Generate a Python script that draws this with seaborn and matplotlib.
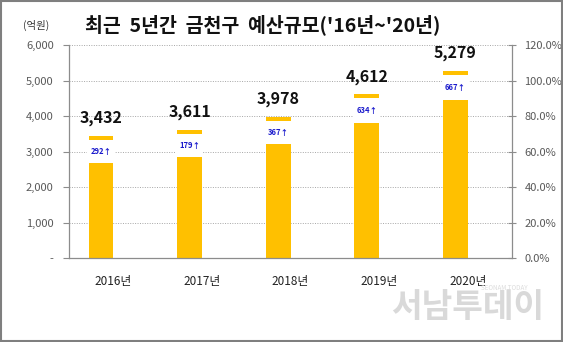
import matplotlib
matplotlib.use("Agg")
import matplotlib.pyplot as plt
import seaborn as sns
import pandas as pd
from matplotlib.patches import Rectangle
from matplotlib.ticker import FuncFormatter, PercentFormatter

# ---- data ----
years = ["2016년", "2017년", "2018년", "2019년", "2020년"]
totals = [3432, 3611, 3978, 4612, 5279]          # 예산 총액 (억원)
increases = [292, 179, 367, 634, 667]            # 전년 대비 증가액
lower_part = [2680, 2850, 3200, 3790, 4460]      # 아래쪽 막대 (broken-bar 표현)
cap = 110                                        # 윗부분 막대 두께
left_ticks = [0, 1000, 2000, 3000, 4000, 5000, 6000]
right_ticks = [0, 0.2, 0.4, 0.6, 0.8, 1.0, 1.2]

sns.set_theme(style="white")
FAM = ["Noto Sans CJK KR", "DejaVu Sans"]
plt.rcParams["font.family"] = FAM

GOLD = "#FFC000"
GRAY = "#595959"

fig = plt.figure(figsize=(5.63, 3.42), dpi=100)
ax = fig.add_axes([0.1226, 0.2456, 0.9094 - 0.1226, 0.8684 - 0.2456])

def frame(values, series_other=0):
    return pd.DataFrame({
        "year": years * 2,
        "val": list(values) + [series_other] * len(years),
        "series": ["budget"] * len(years) + ["rate"] * len(years),
    })

common = dict(x="year", y="val", hue="series", hue_order=["budget", "rate"],
              dodge=True, width=0.56, legend=False, linewidth=0, ax=ax,
              errorbar=None, saturation=1)

# lower bar
sns.barplot(data=frame(lower_part), palette={"budget": GOLD, "rate": GOLD}, **common)
lower_bars = list(ax.containers[0])
# white gap
gap = [t - cap - l for t, l in zip(totals, lower_part)]
sns.barplot(data=frame(gap), palette={"budget": "white", "rate": "white"},
            bottom=lower_part, **common)
# top cap
caps = [cap] * len(totals)
sns.barplot(data=frame(caps), palette={"budget": GOLD, "rate": GOLD},
            bottom=[t - cap for t in totals], **common)

ax.set_ylim(0, 6000)
ax.set_xlim(-0.5, len(years) - 0.5)
ax.set_yticks(left_ticks)
ax.yaxis.set_major_formatter(FuncFormatter(lambda v, p: "-" if v == 0 else f"{int(v):,}"))
ax.set_axisbelow(True)
ax.yaxis.grid(True, color="#a6a6a6", linestyle=(0, (1, 1.5)), linewidth=0.7)
ax.xaxis.grid(False)

# x ticks: marks at boundaries, labels at centres
ax.set_xticks([i - 0.5 for i in range(len(years) + 1)])
ax.set_xticklabels([])
ax.set_xticks(range(len(years)), minor=True)
ax.set_xticklabels(years, minor=True, fontsize=8.5, color="#222222")
ax.tick_params(axis="x", which="major", length=5, width=0.8, color="#8c8c8c", direction="out")
ax.tick_params(axis="x", which="minor", length=0, pad=12)
ax.tick_params(axis="y", length=4, width=0.8, color="#8c8c8c", direction="out",
               labelsize=8, labelcolor=GRAY, pad=7)
ax.set_xlabel("")
ax.set_ylabel("")

for side in ["top", "right"]:
    ax.spines[side].set_visible(False)
for side in ["left", "bottom"]:
    ax.spines[side].set_color("#8c8c8c")
    ax.spines[side].set_linewidth(0.9)

# secondary axis
ax2 = ax.twinx()
ax2.set_ylim(0, 1.2)
ax2.set_yticks(right_ticks)
ax2.yaxis.set_major_formatter(PercentFormatter(1.0, decimals=1))
ax2.tick_params(axis="y", length=6, width=0.8, color="#8c8c8c", direction="inout",
                labelsize=8, labelcolor=GRAY, pad=6)
for side in ["top", "left", "bottom"]:
    ax2.spines[side].set_visible(False)
ax2.spines["right"].set_color("#8c8c8c")
ax2.spines["right"].set_linewidth(0.9)
ax2.grid(False)

# labels
for bar, tot, inc, low in zip(lower_bars, totals, increases, lower_part):
    cx = bar.get_x() + bar.get_width() / 2
    ax.annotate(f"{tot:,}", (cx, tot), xytext=(0, 7), textcoords="offset points",
                ha="center", va="bottom", fontsize=11.5, fontweight="bold",
                color="#111111", family=FAM)
    ax.text(cx, (low + tot - cap) / 2, f"{inc}↑", ha="center", va="center",
            fontsize=5.5, fontweight="bold", color="#1a1acc", family=FAM,
            bbox=dict(boxstyle="square,pad=0.4", fc="white", ec="none"), zorder=5)

# title and unit
fig.text(0.467, 0.928, "최근  5년간  금천구  예산규모('16년~'20년)", ha="center", va="center",
         fontsize=14, fontweight="bold", color="#111111", family=FAM)
fig.text(0.064, 0.926, "(억원)", ha="center", va="center", fontsize=7.5,
         color="#333333", family=FAM)

# watermark
fig.text(0.83, 0.10, "서남투데이", ha="center", va="center", fontsize=24,
         fontweight="bold", color="#d9d9d9", family=FAM)
fig.text(0.895, 0.158, "SEONAM TODAY", ha="center", va="center", fontsize=4.5,
         color="#dcdcdc", family=FAM)

fig.patches.append(Rectangle((0.001, 0.002), 0.997, 0.995, transform=fig.transFigure,
                             fill=False, edgecolor="#7f7f7f", linewidth=1.5))

fig.savefig("out.png", dpi=100)
